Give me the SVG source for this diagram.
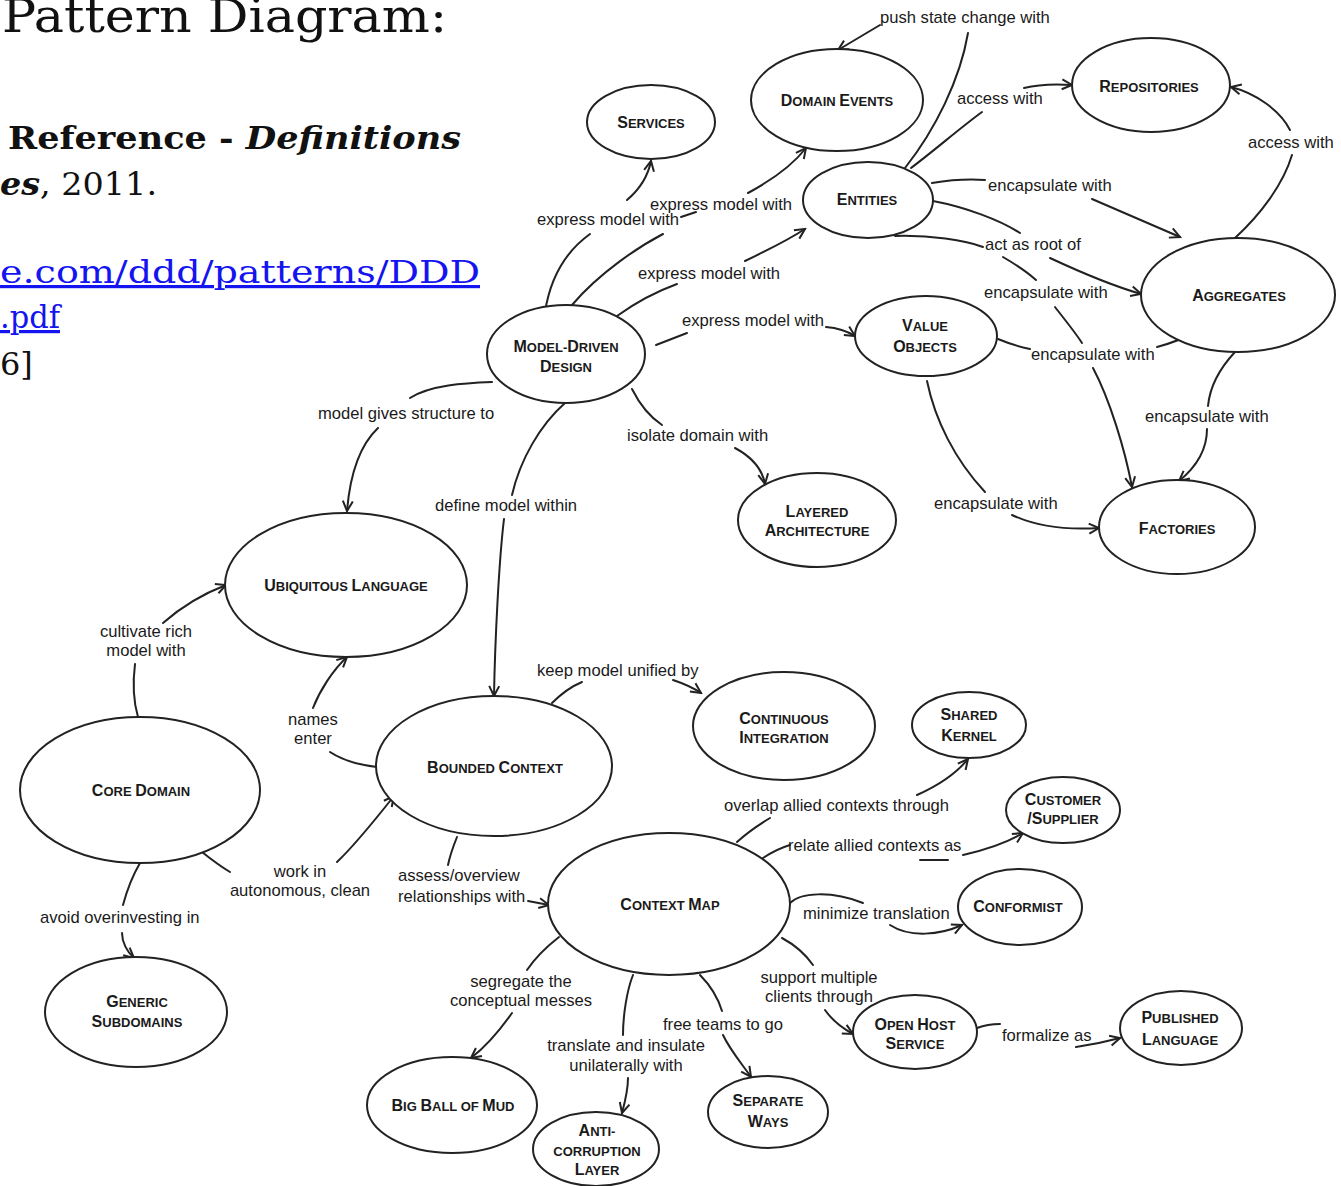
<svg xmlns="http://www.w3.org/2000/svg" width="1341" height="1186" viewBox="0 0 1341 1186">
  <style>
    .node ellipse { fill: #fff; stroke: #222; stroke-width: 2; }
    .nl { font-family: "Liberation Sans", Arial, sans-serif; font-weight: bold; font-size: 16px; fill: #1a1a1a; text-anchor: middle; }
    .sc { font-size: 13px; }
    .edge path { fill: none; stroke: #222; stroke-width: 2; stroke-linecap: round; }
    .edge path.arr { marker-end: url(#arrow); }
    .lbl { font-family: "Liberation Sans", Arial, sans-serif; font-size: 16.6px; fill: #1a1a1a; }
    .mid { text-anchor: middle; }
    .hdr { font-family: "DejaVu Serif", "Liberation Serif", serif; fill: #111; }
    .link { fill: #1414f0; text-decoration: underline; }
  </style>
  <defs>
    <marker id="arrow" viewBox="0 0 14 14" refX="12" refY="7" markerWidth="14" markerHeight="14" markerUnits="userSpaceOnUse" orient="auto">
      <path d="M2,2 L12,7 L2,12" fill="none" stroke="#222" stroke-width="2"/>
    </marker>
  </defs>
  <rect width="1341" height="1186" fill="#fff"/>

  <!-- page heading and reference text -->
  <g id="heading">
    <text class="hdr" x="2" y="32" font-size="46" textLength="445" lengthAdjust="spacingAndGlyphs">Pattern Diagram:</text>
    <text class="hdr" x="8" y="149" font-size="32" font-weight="bold" textLength="453" lengthAdjust="spacingAndGlyphs">Reference - <tspan font-style="italic">Definitions</tspan></text>
    <text class="hdr" x="0" y="195" font-size="32" textLength="157" lengthAdjust="spacingAndGlyphs"><tspan font-weight="bold" font-style="italic">es</tspan>, 2011.</text>
    <text class="hdr link" x="0" y="283" font-size="32" textLength="480" lengthAdjust="spacingAndGlyphs">e.com/ddd/patterns/DDD</text>
    <text class="hdr link" x="0" y="328" font-size="32" textLength="60" lengthAdjust="spacingAndGlyphs">.pdf</text>
    <text class="hdr" x="0" y="375" font-size="32">6]</text>
  </g>

  <!-- connectors -->
  <g id="connectors" class="edge">
    <!-- Model-Driven Design -> Services -->
    <path d="M545,312 C550,280 565,252 590,234"/>
    <path class="arr" d="M627,200 C640,189 648,176 651,161"/>
    <!-- Model-Driven Design -> Domain Events -->
    <path d="M572,305 C600,272 640,246 663,234"/>
    <path d="M681,217 L696,212"/>
    <path class="arr" d="M748,193 C772,180 792,166 806,148"/>
    <!-- Model-Driven Design -> Entities -->
    <path d="M617,316 C635,303 655,292 677,284"/>
    <path class="arr" d="M745,261 C768,250 788,240 805,229"/>
    <!-- Model-Driven Design -> Value Objects -->
    <path d="M656,345 L687,333"/>
    <path class="arr" d="M826,327 C838,328 847,331 855,336"/>
    <!-- Model-Driven Design -> Layered Architecture -->
    <path d="M632,389 C640,405 650,417 662,425"/>
    <path class="arr" d="M735,448 C750,456 762,468 765,484"/>
    <!-- Model-Driven Design -> Ubiquitous Language -->
    <path d="M492,382 C465,383 430,385 410,398"/>
    <path class="arr" d="M378,428 C360,445 350,475 347,511"/>
    <!-- Model-Driven Design -> Bounded Context -->
    <path d="M565,403 C540,425 520,460 512,495"/>
    <path class="arr" d="M504,519 C499,560 495,640 494,696"/>
    <!-- Entities -> Domain Events -->
    <path d="M905,168 C935,130 960,80 968,33"/>
    <path class="arr" d="M880,25 L838,50"/>
    <!-- Entities -> Repositories -->
    <path d="M911,168 C935,150 960,128 982,112"/>
    <path class="arr" d="M1024,88 C1040,84 1058,84 1072,85"/>
    <!-- Aggregates -> Repositories -->
    <path d="M1235,238 C1260,215 1283,185 1292,155"/>
    <path class="arr" d="M1290,130 C1280,110 1255,93 1231,87"/>
    <!-- Entities -> Aggregates (encapsulate) -->
    <path d="M932,183 C950,180 970,179 985,180"/>
    <path class="arr" d="M1092,199 L1180,237"/>
    <!-- Entities -> Aggregates (root) -->
    <path d="M933,201 C965,207 1000,220 1020,233"/>
    <path class="arr" d="M1050,258 C1080,272 1110,285 1141,294"/>
    <!-- Entities -> Factories -->
    <path d="M895,236 C930,235 965,240 983,247"/>
    <path d="M1003,257 C1015,264 1027,272 1036,280"/>
    <path d="M1055,307 C1065,320 1075,332 1082,343"/>
    <path class="arr" d="M1093,368 C1110,400 1125,450 1132,487"/>
    <!-- Value Objects -> Aggregates -->
    <path d="M998,339 C1010,344 1020,347 1030,349"/>
    <path class="arr" d="M1157,347 C1172,343 1187,337 1200,330"/>
    <!-- Value Objects -> Factories -->
    <path d="M927,381 C935,420 955,460 985,492"/>
    <path class="arr" d="M1012,515 C1040,528 1070,530 1099,528"/>
    <!-- Aggregates -> Factories -->
    <path d="M1235,352 C1220,368 1210,385 1208,406"/>
    <path class="arr" d="M1207,429 C1207,450 1195,468 1179,481"/>
    <!-- Core Domain -> Ubiquitous Language -->
    <path d="M138,717 C133,700 133,680 135,664"/>
    <path class="arr" d="M163,623 C180,608 200,595 226,585"/>
    <!-- Bounded Context -> Ubiquitous Language -->
    <path d="M377,767 C360,765 342,760 330,752"/>
    <path class="arr" d="M313,708 C320,690 333,670 347,657"/>
    <!-- Core Domain -> Bounded Context -->
    <path d="M202,852 C212,860 220,866 230,872"/>
    <path class="arr" d="M337,862 C355,845 375,820 394,796"/>
    <!-- Core Domain -> Generic Subdomains -->
    <path d="M140,863 C133,875 127,890 123,905"/>
    <path class="arr" d="M122,933 C122,942 127,952 134,958"/>
    <!-- Bounded Context -> Continuous Integration -->
    <path d="M552,703 C560,695 570,687 582,682"/>
    <path class="arr" d="M673,680 C682,683 692,687 701,693"/>
    <!-- Bounded Context -> Context Map -->
    <path d="M457,837 C453,847 450,855 448,865"/>
    <path class="arr" d="M528,901 L549,905"/>
    <!-- Context Map -> Shared Kernel -->
    <path d="M737,842 C748,832 760,824 770,818"/>
    <path class="arr" d="M917,795 C935,787 955,775 968,759"/>
    <!-- Context Map -> Customer/Supplier -->
    <path d="M763,858 C772,852 780,848 790,845"/>
    <path d="M920,860 L948,860"/>
    <path class="arr" d="M963,855 C985,850 1005,844 1023,833"/>
    <!-- Context Map -> Conformist -->
    <path d="M790,903 C800,893 830,890 863,903"/>
    <path class="arr" d="M890,925 C910,938 940,935 962,925"/>
    <!-- Context Map -> Big Ball of Mud -->
    <path d="M559,937 C545,948 535,958 527,970"/>
    <path class="arr" d="M512,1013 C500,1030 488,1045 471,1058"/>
    <!-- Context Map -> Anti-corruption Layer -->
    <path d="M633,975 C627,990 623,1015 623,1035"/>
    <path class="arr" d="M628,1078 C628,1090 625,1102 622,1113"/>
    <!-- Context Map -> Separate Ways -->
    <path d="M700,975 C710,985 718,998 722,1011"/>
    <path class="arr" d="M723,1035 C730,1050 742,1064 751,1077"/>
    <!-- Context Map -> Open Host Service -->
    <path d="M782,938 C795,945 806,955 813,965"/>
    <path class="arr" d="M825,1010 C832,1020 842,1028 853,1034"/>
    <!-- Open Host Service -> Published Language -->
    <path d="M977,1028 C985,1025 992,1024 1000,1024"/>
    <path class="arr" d="M1076,1047 C1090,1045 1105,1042 1120,1038"/>
  </g>

  <!-- connector labels -->
  <g id="labels" class="lbl">
    <text x="880" y="23">push state change with</text>
    <text x="957" y="104">access with</text>
    <text x="1248" y="148">access with</text>
    <text x="988" y="191">encapsulate with</text>
    <text x="650" y="210">express model with</text>
    <text x="537" y="225">express model with</text>
    <text x="985" y="250">act as root of</text>
    <text x="638" y="279">express model with</text>
    <text x="984" y="298">encapsulate with</text>
    <text x="682" y="326">express model with</text>
    <text x="1031" y="360">encapsulate with</text>
    <text x="318" y="419">model gives structure to</text>
    <text x="1145" y="422">encapsulate with</text>
    <text x="627" y="441">isolate domain with</text>
    <text x="934" y="509">encapsulate with</text>
    <text x="435" y="511">define model within</text>
    <text class="mid" x="146" y="637">cultivate rich</text>
    <text class="mid" x="146" y="656">model with</text>
    <text x="537" y="676">keep model unified by</text>
    <text class="mid" x="313" y="725">names</text>
    <text class="mid" x="313" y="744">enter</text>
    <text x="724" y="811">overlap allied contexts through</text>
    <text x="788" y="851">relate allied contexts as</text>
    <text class="mid" x="300" y="877">work in</text>
    <text class="mid" x="300" y="896">autonomous, clean</text>
    <text x="398" y="881">assess/overview</text>
    <text x="398" y="902">relationships with</text>
    <text x="803" y="919">minimize translation</text>
    <text x="40" y="923">avoid overinvesting in</text>
    <text class="mid" x="521" y="987">segregate the</text>
    <text class="mid" x="521" y="1006">conceptual messes</text>
    <text class="mid" x="819" y="983">support multiple</text>
    <text class="mid" x="819" y="1002">clients through</text>
    <text x="663" y="1030">free teams to go</text>
    <text x="1002" y="1041">formalize as</text>
    <text class="mid" x="626" y="1051">translate and insulate</text>
    <text class="mid" x="626" y="1071">unilaterally with</text>
  </g>

  <!-- pattern nodes -->
  <g id="services" class="node">
    <ellipse cx="651" cy="122" rx="64" ry="37"/>
    <text class="nl" x="651" y="128">S<tspan class="sc">ERVICES</tspan></text>
  </g>
  <g id="domain-events" class="node">
    <ellipse cx="837" cy="100" rx="86" ry="51"/>
    <text class="nl" x="837" y="106">D<tspan class="sc">OMAIN </tspan>E<tspan class="sc">VENTS</tspan></text>
  </g>
  <g id="entities" class="node">
    <ellipse cx="868" cy="200" rx="65" ry="38"/>
    <text class="nl" x="867" y="205">E<tspan class="sc">NTITIES</tspan></text>
  </g>
  <g id="repositories" class="node">
    <ellipse cx="1151" cy="85" rx="79" ry="47"/>
    <text class="nl" x="1149" y="92">R<tspan class="sc">EPOSITORIES</tspan></text>
  </g>
  <g id="aggregates" class="node">
    <ellipse cx="1238" cy="295" rx="97" ry="57"/>
    <text class="nl" x="1239" y="301">A<tspan class="sc">GGREGATES</tspan></text>
  </g>
  <g id="value-objects" class="node">
    <ellipse cx="926" cy="336" rx="71" ry="40"/>
    <text class="nl" x="925" y="331">V<tspan class="sc">ALUE</tspan></text>
    <text class="nl" x="925" y="352">O<tspan class="sc">BJECTS</tspan></text>
  </g>
  <g id="model-driven-design" class="node">
    <ellipse cx="566" cy="354" rx="79" ry="49"/>
    <text class="nl" x="566" y="352">M<tspan class="sc">ODEL-</tspan>D<tspan class="sc">RIVEN</tspan></text>
    <text class="nl" x="566" y="372">D<tspan class="sc">ESIGN</tspan></text>
  </g>
  <g id="layered-architecture" class="node">
    <ellipse cx="817" cy="520" rx="79" ry="47"/>
    <text class="nl" x="817" y="517">L<tspan class="sc">AYERED</tspan></text>
    <text class="nl" x="817" y="536">A<tspan class="sc">RCHITECTURE</tspan></text>
  </g>
  <g id="factories" class="node">
    <ellipse cx="1177" cy="527" rx="78" ry="47"/>
    <text class="nl" x="1177" y="534">F<tspan class="sc">ACTORIES</tspan></text>
  </g>
  <g id="ubiquitous-language" class="node">
    <ellipse cx="346" cy="585" rx="121" ry="72"/>
    <text class="nl" x="346" y="591">U<tspan class="sc">BIQUITOUS </tspan>L<tspan class="sc">ANGUAGE</tspan></text>
  </g>
  <g id="core-domain" class="node">
    <ellipse cx="140" cy="790" rx="120" ry="73"/>
    <text class="nl" x="141" y="796">C<tspan class="sc">ORE </tspan>D<tspan class="sc">OMAIN</tspan></text>
  </g>
  <g id="bounded-context" class="node">
    <ellipse cx="494" cy="766" rx="118" ry="70"/>
    <text class="nl" x="495" y="773">B<tspan class="sc">OUNDED </tspan>C<tspan class="sc">ONTEXT</tspan></text>
  </g>
  <g id="continuous-integration" class="node">
    <ellipse cx="784" cy="726" rx="91" ry="54"/>
    <text class="nl" x="784" y="724">C<tspan class="sc">ONTINUOUS</tspan></text>
    <text class="nl" x="784" y="743">I<tspan class="sc">NTEGRATION</tspan></text>
  </g>
  <g id="shared-kernel" class="node">
    <ellipse cx="969" cy="725" rx="57" ry="33"/>
    <text class="nl" x="969" y="720">S<tspan class="sc">HARED</tspan></text>
    <text class="nl" x="969" y="741">K<tspan class="sc">ERNEL</tspan></text>
  </g>
  <g id="customer-supplier" class="node">
    <ellipse cx="1063" cy="810" rx="57" ry="33"/>
    <text class="nl" x="1063" y="805">C<tspan class="sc">USTOMER</tspan></text>
    <text class="nl" x="1063" y="824">/S<tspan class="sc">UPPLIER</tspan></text>
  </g>
  <g id="conformist" class="node">
    <ellipse cx="1020" cy="907" rx="62" ry="38"/>
    <text class="nl" x="1018" y="912">C<tspan class="sc">ONFORMIST</tspan></text>
  </g>
  <g id="context-map" class="node">
    <ellipse cx="669" cy="904" rx="121" ry="71"/>
    <text class="nl" x="670" y="910">C<tspan class="sc">ONTEXT </tspan>M<tspan class="sc">AP</tspan></text>
  </g>
  <g id="generic-subdomains" class="node">
    <ellipse cx="136" cy="1012" rx="91" ry="55"/>
    <text class="nl" x="137" y="1007">G<tspan class="sc">ENERIC</tspan></text>
    <text class="nl" x="137" y="1027">S<tspan class="sc">UBDOMAINS</tspan></text>
  </g>
  <g id="big-ball-of-mud" class="node">
    <ellipse cx="452" cy="1105" rx="85" ry="48"/>
    <text class="nl" x="453" y="1111">B<tspan class="sc">IG </tspan>B<tspan class="sc">ALL OF </tspan>M<tspan class="sc">UD</tspan></text>
  </g>
  <g id="anti-corruption-layer" class="node">
    <ellipse cx="596" cy="1149" rx="63" ry="37"/>
    <text class="nl" x="597" y="1136">A<tspan class="sc">NTI-</tspan></text>
    <text class="nl" x="597" y="1156"><tspan class="sc">CORRUPTION</tspan></text>
    <text class="nl" x="597" y="1175">L<tspan class="sc">AYER</tspan></text>
  </g>
  <g id="separate-ways" class="node">
    <ellipse cx="768" cy="1112" rx="60" ry="36"/>
    <text class="nl" x="768" y="1106">S<tspan class="sc">EPARATE</tspan></text>
    <text class="nl" x="768" y="1127">W<tspan class="sc">AYS</tspan></text>
  </g>
  <g id="open-host-service" class="node">
    <ellipse cx="915" cy="1032" rx="62" ry="37"/>
    <text class="nl" x="915" y="1030">O<tspan class="sc">PEN </tspan>H<tspan class="sc">OST</tspan></text>
    <text class="nl" x="915" y="1049">S<tspan class="sc">ERVICE</tspan></text>
  </g>
  <g id="published-language" class="node">
    <ellipse cx="1181" cy="1028" rx="61" ry="37"/>
    <text class="nl" x="1180" y="1023">P<tspan class="sc">UBLISHED</tspan></text>
    <text class="nl" x="1180" y="1045">L<tspan class="sc">ANGUAGE</tspan></text>
  </g>
</svg>
